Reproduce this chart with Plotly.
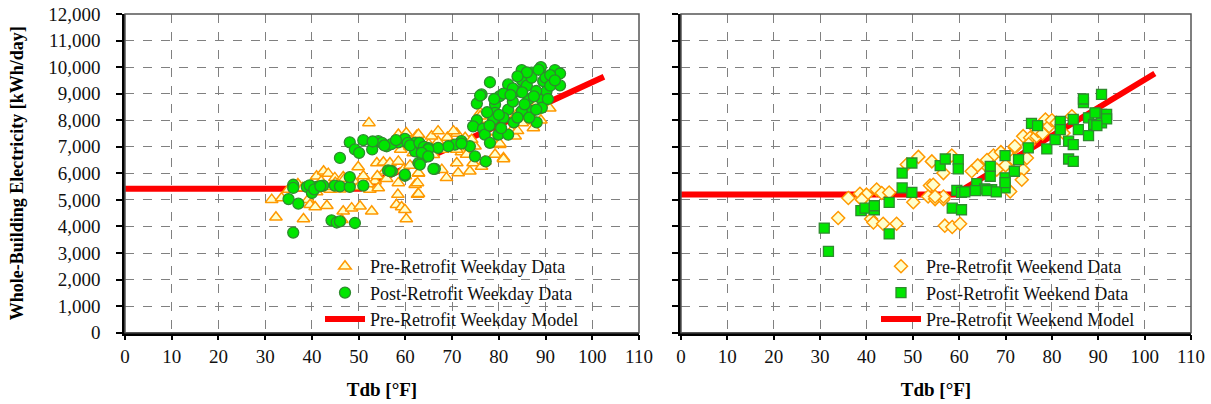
import plotly.graph_objects as go

# ---------------- Data ----------------
# Left panel: weekday
pre_wd_T = [31.4, 32.3, 33.5, 35, 38.2, 39.2, 39.6, 40.7, 41, 42.5, 43.5, 43.2, 43.9, 44.9, 46.7, 46.4,
            48.5, 50.3, 49.9, 46.7, 52.8, 52.4, 53.5, 54.2, 53.9, 55.3, 56.7, 55.6, 58.5, 58.5, 58.4, 58.1,
            59.2, 59.9, 60.2, 58.5, 60.2, 62.4, 62.1, 62.6, 62.8, 61.7, 59.6, 52.2,
            37, 38, 40, 41, 42, 44, 45, 46, 47, 48, 49, 50, 51, 52, 54, 56, 57, 60, 61, 63, 64, 65, 66,
            67, 68, 69, 70, 71, 72, 57, 59, 61,
            62.8, 62.6, 62.8, 62.8, 65.6, 67, 70.3, 67.8, 68.8, 71, 71.3, 73.1, 73.8, 74.5, 76.3, 77, 79.2,
            81, 80.2, 76, 77.4, 83.5, 83.8, 87.4, 87.7, 90.9, 72.8, 71, 74.9, 74.2, 78.5, 82.7, 80.2, 81, 76,
            85, 86, 88, 84, 89]
pre_wd_V = [5010, 4350, 5070, 5390, 4280, 5010, 4820, 4730, 5890, 6080, 5990, 4780, 5390, 5830, 4570, 4250,
            4690, 4760, 6240, 5860, 4570, 5390, 5700, 5450, 6390, 6420, 6390, 6080, 6450, 5640, 5200, 4820,
            4730, 4630, 4280, 7460, 7520, 7420, 5570, 5200, 5990, 6770, 6140, 7900,
            5600, 5450, 5550, 5300, 5700, 5500, 5650, 5400, 5800, 5550, 5700, 5500, 5900, 5600, 5900, 5800,
            6100, 5900, 6300, 6900, 6600, 7100, 6700, 7200, 6900, 7350, 7100, 7500, 6800, 7100, 6900, 7000,
            5230, 5640, 6010, 7460, 7400, 7590, 7590, 6140, 5830, 6390, 6010, 6710, 6080, 6390, 6260, 6450, 6710,
            6580, 7080, 8280, 8030, 7400, 8220, 7710, 7960, 8450, 7340, 6900, 7020, 7270, 7270, 7590, 7120, 6540, 8150,
            7900, 8300, 8600, 7600, 8000]

post_wd_T = [36, 35, 37.1, 36, 36, 38.9, 40, 41, 42.4, 44.2, 45.3, 46, 49.2, 44.9, 46, 48.1, 48.1, 51, 46,
             48.1, 49.2, 50.1, 51, 52.9, 54.2, 56, 58.5, 59.9, 62.1, 62.1, 63.5, 56.3, 57.1, 59.9, 62.8, 63.8,
             39.5, 40.5, 41.8, 55, 57, 58, 60.5, 61, 63, 64, 65, 53, 55.5,
             78.1, 84.9, 87, 89, 92, 93.1, 93.1, 89.5, 82, 84.2, 76.3, 75.3, 79.2, 80.2, 86.3, 89.2, 90.2, 89.2,
             87, 84.9, 82, 79.2, 81, 83.2, 88.1, 75.3, 74.5, 76.6, 78.8, 79.9, 82, 77, 72, 70.6, 69.2, 67, 64.9,
             63.5, 66.3, 64.9, 73.8, 78.1, 74.9, 77.2, 72, 76, 66, 59.9, 56.7, 63.1,
             81, 83, 85, 86, 87, 88, 90, 91, 85.5, 87.5, 83, 80, 86, 88.5, 91, 84, 82.5, 86.5, 90.5, 78, 80.5,
             77.5, 84, 88, 92, 85, 79]
post_wd_V = [3770, 5030, 4860, 5570, 5450, 5490, 5260, 5490, 5540, 4230, 4150, 4190, 4130, 5540, 5510, 5490,
             5860, 5540, 6580, 7170, 6900, 6770, 7250, 6900, 7210, 7020, 7170, 7300, 7150, 6830, 7020, 6110,
             6080, 5910, 6390, 6580,
             5550, 5400, 5520, 7150, 7100, 7250, 7150, 7050, 7150, 7000, 6950, 7200, 7050,
             9430, 9890, 9790, 10000, 9890, 9760, 9310, 9470, 9350, 9090, 8970, 8630, 8590, 8910, 8780, 8780,
             9090, 8470, 8340, 8340, 8400, 8280, 8090, 7920, 7920, 8000, 7770, 7680, 8030, 7460, 7460, 7460,
             7210, 7080, 7020, 6960, 6900, 6770, 6170, 6640, 7020, 7150, 6640, 6450, 7120, 8930, 6170, 5950,
             6080, 6330,
             9000, 9200, 9500, 9300, 9600, 9100, 9600, 9300, 8600, 8900, 8700, 8200, 9800, 9900, 9700, 9650,
             8950, 8100, 8800, 7800, 7700, 8300, 8100, 8400, 9500, 9050, 8800]

model_wd_T = [0, 50.4, 102.5]
model_wd_V = [5420, 5420, 9640]

# Right panel: weekend
pre_we_T = [33.9, 36.1, 38.6, 40, 39, 42.2, 43.3, 44.9, 41, 41.5, 43.6, 46.5, 50.1, 48.7, 51.2, 54.1, 56.6,
            53.7, 53.3, 54.8, 56.6, 56.9, 58.5, 60.2, 58.4, 62.7, 67.4, 72, 73.8, 75.3, 76.7, 78.6, 79.4,
            74.6, 73.8, 73.5, 68.1, 71, 76.4, 84.3, 82.5, 71.7, 72, 65.6, 54.4, 56.6, 54.8,
            64, 66, 69, 70, 75, 77, 80, 78, 81]
pre_we_V = [4320, 5070, 5230, 5200, 5010, 5390, 5260, 5280, 4280, 4150, 4100, 4100, 4910, 6330, 6620, 6450,
            6010, 5540, 5130, 5030, 5030, 4030, 3980, 4100, 6670, 6080, 6670, 6960, 7400, 7340, 7400, 8030,
            7770, 6580, 6140, 5760, 6140, 5320, 7710, 8150, 7520, 6520, 7020, 6330, 5570, 5130, 5130,
            6300, 6500, 6800, 6300, 7100, 7600, 8000, 7500, 7900]

post_we_T = [30.9, 31.8, 38.8, 39.7, 41.7, 41.7, 44.9, 44.9, 47.7, 47.7, 49.8, 49.8, 55.9, 57, 59.8, 59.8,
             59.5, 60.5, 58.5, 60.5, 63.8, 65.5, 66.7, 66.7, 67, 69.9, 69.9, 69.9, 71.9, 72.8, 74.9, 75.6,
             76.9, 78.9, 80.7, 81.8, 81.8, 83.6, 84.6, 84.6, 85.7, 83.6, 84.6, 86.8, 86.8, 90.7, 87.9, 89,
             87.9, 90.7, 90.7, 89.3, 91.8, 91.8, 89.7, 63.5, 66, 68, 69.9, 61.2]
post_we_V = [3940, 3060, 4600, 4690, 4630, 4780, 3720, 4910, 6010, 5450, 6390, 5280, 6290, 6540, 6520, 6170,
             5360, 5280, 4690, 4630, 5610, 5410, 6260, 5890, 5390, 6670, 5830, 5450, 6080, 6520, 6960, 7880,
             7800, 6920, 7270, 7960, 7650, 7210, 8030, 7080, 7650, 6540, 6450, 8660, 8800, 8970, 8090, 7840,
             7420, 8220, 7900, 8280, 8220, 8050, 7800, 5350, 5350, 5300, 5650, 5300]

model_we_T = [0, 59, 102.2]
model_we_V = [5200, 5200, 9760]

x_ticks = list(range(0, 111, 10))
y_ticks = list(range(0, 12001, 1000))

# ---------------- Styles ----------------
SERIF = "Liberation Serif"
ORANGE = "#FF9900"
PALE = "#FFFFCC"
GREEN = "#00E600"
DKGREEN = "#2E8B2E"
RED = "#FF0000"

fig = go.Figure()

# left panel
fig.add_trace(go.Scatter(x=model_wd_T, y=model_wd_V, mode="lines", name="Pre-Retrofit Weekday Model",
                         line=dict(color=RED, width=6), legendrank=3, xaxis="x", yaxis="y", legend="legend"))
fig.add_trace(go.Scatter(x=pre_wd_T, y=pre_wd_V, mode="markers", name="Pre-Retrofit Weekday Data",
                         marker=dict(symbol="triangle-up", size=11, color=PALE, line=dict(color=ORANGE, width=1.5)),
                         legendrank=1, xaxis="x", yaxis="y", legend="legend"))
fig.add_trace(go.Scatter(x=post_wd_T, y=post_wd_V, mode="markers", name="Post-Retrofit Weekday Data",
                         marker=dict(symbol="circle", size=11, color=GREEN, line=dict(color=DKGREEN, width=1.3)),
                         legendrank=2, xaxis="x", yaxis="y", legend="legend"))

# right panel
fig.add_trace(go.Scatter(x=model_we_T, y=model_we_V, mode="lines", name="Pre-Retrofit Weekend Model",
                         line=dict(color=RED, width=6), legendrank=3, xaxis="x2", yaxis="y2", legend="legend2"))
fig.add_trace(go.Scatter(x=pre_we_T, y=pre_we_V, mode="markers", name="Pre-Retrofit Weekend Data",
                         marker=dict(symbol="diamond", size=10, color=PALE, line=dict(color=ORANGE, width=1.5)),
                         legendrank=1, xaxis="x2", yaxis="y2", legend="legend2"))
fig.add_trace(go.Scatter(x=post_we_T, y=post_we_V, mode="markers", name="Post-Retrofit Weekend Data",
                         marker=dict(symbol="square", size=10, color=GREEN, line=dict(color=DKGREEN, width=1.3)),
                         legendrank=2, xaxis="x2", yaxis="y2", legend="legend2"))

# the page's body margin is removed (post_script), so the figure fills the window at (0, 0)
W, H = 1211, 404


def px_x(p):
    return p / W


def px_y(p):
    return 1 - p / H


xd1 = [px_x(125), px_x(639)]
xd2 = [px_x(681), px_x(1191)]
yd = [px_y(332.7), px_y(14)]

common_x = dict(range=[0, 110], tickvals=x_ticks, showgrid=True, gridcolor="#808080", griddash="dash",
                gridwidth=1.2, zeroline=False, showline=True, linecolor="black", linewidth=2.5,
                ticks="outside", ticklen=5, tickcolor="black", tickwidth=1.5, automargin=False,
                ticklabeloverflow="allow",
                tickfont=dict(family=SERIF, size=19, color="#111"),
                title=dict(text="<b>Tdb [°F]</b>", font=dict(family=SERIF, size=19, color="black"), standoff=17))
common_y = dict(range=[0, 12000], tickvals=y_ticks, showgrid=True, gridcolor="#808080", griddash="dash",
                gridwidth=1.2, zeroline=False, showline=True, linecolor="black", linewidth=2.5,
                ticks="outside", ticklen=6, tickcolor="black", tickwidth=1.5, tickformat=",",
                automargin=False, ticklabeloverflow="allow",
                tickfont=dict(family=SERIF, size=19, color="#111"))

leg_common = dict(xanchor="left", yanchor="top", bgcolor="rgba(255,255,255,0)", borderwidth=0,
                  font=dict(family=SERIF, size=18, color="#111"), tracegroupgap=0, itemwidth=40)

fig.update_layout(
    width=W, height=H, margin=dict(l=0, r=0, t=0, b=0, autoexpand=False),
    paper_bgcolor="white", plot_bgcolor="white",
    xaxis=dict(domain=xd1, anchor="y", **common_x),
    yaxis=dict(domain=yd, anchor="x", ticklabelstandoff=12,
               title=dict(text="<b>Whole-Building Electricity [kWh/day]</b>",
                          font=dict(family=SERIF, size=18, color="black"), standoff=20),
               **common_y),
    xaxis2=dict(domain=xd2, anchor="y2", **common_x),
    yaxis2=dict(domain=yd, anchor="x2", showticklabels=False, **common_y),
    legend=dict(x=px_x(320), y=px_y(248), **leg_common),
    legend2=dict(x=px_x(876), y=px_y(248), **leg_common),
    showlegend=True,
    shapes=[
        # white legend boxes hiding the grid (between grid and data)
        dict(type="rect", xref="paper", yref="paper", x0=px_x(320), x1=px_x(638), y0=px_y(330), y1=px_y(257),
             fillcolor="white", line=dict(width=0), layer="between"),
        dict(type="rect", xref="paper", yref="paper", x0=px_x(873), x1=px_x(1190), y0=px_y(330), y1=px_y(257),
             fillcolor="white", line=dict(width=0), layer="between"),
        dict(type="rect", xref="x domain", yref="y domain", x0=0, x1=1, y0=0, y1=1,
             line=dict(color="#555555", width=1.5), layer="above"),
        dict(type="rect", xref="x2 domain", yref="y2 domain", x0=0, x1=1, y0=0, y1=1,
             line=dict(color="#555555", width=1.5), layer="above"),
    ],
)

fig.write_html("out.html", config={"displayModeBar": False},
               post_script="document.body.style.margin='0';document.body.style.padding='0';"
                           "document.body.style.overflow='hidden';")
